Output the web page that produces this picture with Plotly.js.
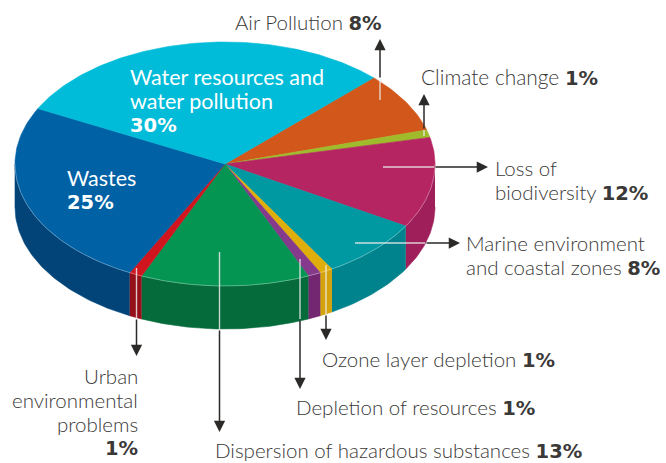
<!DOCTYPE html>
<html><head><meta charset="utf-8">
<script src="https://cdn.plot.ly/plotly-3.0.1.min.js"></script>
<style>html,body{margin:0;padding:0;background:#fff}#c{width:666px;height:463px}</style>
</head><body><div id="c"></div>
<script>
// Data, clockwise from the air / water boundary
const categories = ["Air Pollution","Climate change","Loss of biodiversity","Marine environment and coastal zones","Ozone layer depletion","Depletion of resources","Dispersion of hazardous substances","Urban environmental problems","Wastes","Water resources and water pollution"];
const values = [8,1,12,8,1,1,13,1,25,30];
const topColors = ["#d2571b","#9fbb2c","#b52562","#0098a1","#e0ae0a","#853a8c","#059552","#d0151f","#0061a4","#00bcd9"];
const sideColors = ["#a5410f","#7a9020","#9e1f59","#00838d","#d4a20a","#722770","#056b3a","#96101a","#024478","#0090a8"];

// Geometry of the tilted disc, in page pixels
const CX=225, CY=164, RX=210, RY=122, DEPTH=43, START=45;
const rad=d=>d*Math.PI/180;
const px=a=>CX+RX*Math.sin(rad(a));
const py=a=>CY-RY*Math.cos(rad(a));
function arc(a0,a1){const n=Math.max(2,Math.ceil(Math.abs(a1-a0)));const o=[];for(let i=0;i<=n;i++)o.push(a0+(a1-a0)*i/n);return o;}

const total=values.reduce((s,v)=>s+v,0);
const traces=[];
function poly(xs,ys,color){traces.push({type:'scatter',mode:'lines',x:xs,y:ys,fill:'toself',fillcolor:color,line:{color:color,width:0.6},hoverinfo:'skip',showlegend:false});}

let ang=START, spans=[];
values.forEach(v=>{const a1=ang+v/total*360;spans.push([ang,a1]);ang=a1;});

// Side wall: only the front half (90° to 270° from north) shows
spans.forEach((s,i)=>{
  const a0=Math.max(s[0],90), a1=Math.min(s[1],270);
  if(a1<=a0) return;
  const as=arc(a0,a1);
  poly(as.map(px).concat(as.slice().reverse().map(px)),
       as.map(py).concat(as.slice().reverse().map(a=>py(a)+DEPTH)), sideColors[i]);
});
// Top slices
spans.forEach((s,i)=>{
  const as=arc(s[0],s[1]);
  poly([CX].concat(as.map(px),[CX]),[CY].concat(as.map(py),[CY]),topColors[i]);
});
// Thin light rim along the front edge
const rim=arc(90,270);
traces.push({type:'scatter',mode:'lines',x:rim.map(px),y:rim.map(py),line:{color:'rgba(255,255,255,0.45)',width:0.7},hoverinfo:'skip',showlegend:false});

// Leader lines: [x0,y0, xEdge,yEdge, xTip,yTip]
const leaders=[
 [380,100,380,79,380,39],
 [424,136,424,130,424,94],
 [383,167,434,167,488,167],
 [355,243,425,243,460,243],
 [326,265,326,314,326,340],
 [300,259,300,319,300,389],
 [219.5,252,219.5,329,219.5,432],
 [136.5,268,136.5,318,136.5,356]
];
leaders.forEach(l=>{
  traces.push({type:'scatter',mode:'lines',x:[l[0],l[2]],y:[l[1],l[3]],line:{color:'rgba(235,235,235,0.85)',width:1.4},hoverinfo:'skip',showlegend:false});
});
const ann=leaders.map(l=>({x:l[4],y:l[5],ax:l[2],ay:l[3],xref:'x',yref:'y',axref:'x',ayref:'y',text:'',showarrow:true,arrowhead:2,arrowsize:1.5,arrowwidth:1.5,arrowcolor:'#2b2a29'}));

const FONT='Lato, "Open Sans", sans-serif';
const B=(t,s)=>'<span style="font-family:\'DejaVu Sans\';font-weight:700;font-size:'+s+'px">'+t+'</span>';
function label(x,y,lines,anchor,color,size,weight){
  lines.forEach((t,i)=>ann.push({x:x,y:y+i*24,xref:'x',yref:'y',text:t,showarrow:false,xanchor:anchor,yanchor:'middle',align:anchor,
    font:{family:FONT,size:size||20.5,weight:weight||300,color:color||'#3a3938'}}));
}
label(233,22,['Air Pollution '+B('8%',19.5)],'left');
label(419,77,['Climate change '+B('1%',19.5)],'left',null,20.9);
label(493,168,['Loss of','biodiversity '+B('12%',19.5)],'left');
label(464,243,['Marine environment','and coastal zones '+B('8%',19.5)],'left');
label(320,359,['Ozone layer depletion '+B('1%',19.5)],'left');
label(294,407,['Depletion of resources '+B('1%',19.5)],'left');
label(213,450,['Dispersion of hazardous substances '+B('13%',19.5)],'left');
label(140,376,['Urban','environmental','problems',B('1%',19.5)],'right');
label(65,178,['Wastes',B('25%',19.5)],'left','#ffffff',21.5,400);
label(128,77,['Water resources and','water pollution',B('30%',19.5)],'left','#ffffff',21.5,400);

Plotly.newPlot('c',traces,{
  width:666,height:463,margin:{l:0,r:0,t:0,b:0},paper_bgcolor:'#fff',plot_bgcolor:'#fff',showlegend:false,
  xaxis:{range:[0,666],visible:false,fixedrange:true},
  yaxis:{range:[463,0],visible:false,fixedrange:true},
  annotations:ann
},{displayModeBar:false,staticPlot:true});
</script></body></html>
